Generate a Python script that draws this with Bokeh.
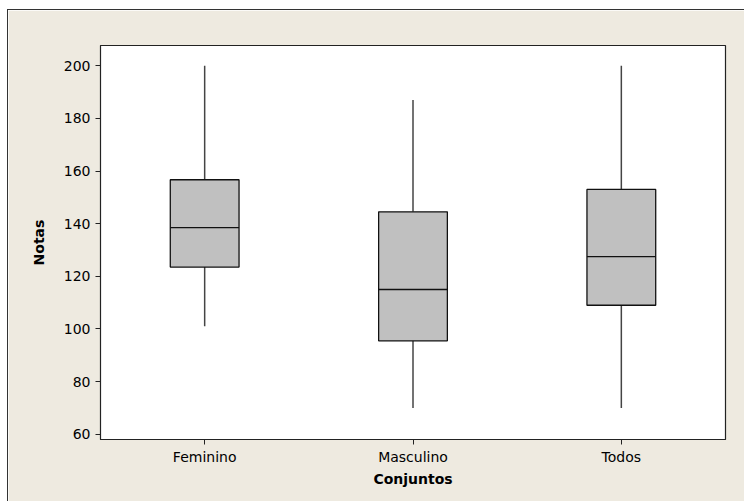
from bokeh.plotting import figure
from bokeh.models import FixedTicker, ColumnDataSource
from bokeh.embed import file_html
from bokeh.resources import INLINE

categorias = ["Feminino", "Masculino", "Todos"]
posicoes = [1, 2, 3]
minimo = [101, 70, 70]
q1 = [123.5, 95.5, 109]
mediana = [138.5, 115, 127.5]
q3 = [156.7, 144.5, 153]
maximo = [200, 187, 200]
y_ticks = [60, 80, 100, 120, 140, 160, 180, 200]

BG = "#EEEAE0"
BOX_W = 0.33

src = ColumnDataSource(dict(
    x=posicoes, lo=minimo, q1=q1, med=mediana, q3=q3, hi=maximo,
    xl=[v - BOX_W / 2 for v in posicoes], xr=[v + BOX_W / 2 for v in posicoes],
))

p = figure(width=737, height=492, output_backend="svg", toolbar_location=None,
           x_range=(0.5, 3.5), y_range=(58.0, 207.7),
           background_fill_color="white", border_fill_color=BG,
           min_border_left=92, min_border_right=20, min_border_top=35, min_border_bottom=63)
p.styles = {"border-left": "1px solid #333333", "border-top": "1px solid #333333",
            "margin-left": "7px", "margin-top": "9px"}

p.grid.visible = False
p.outline_line_color = "#222222"
p.outline_line_width = 1.2

# whiskers
p.segment(x0="x", y0="lo", x1="x", y1="q1", source=src, line_color="#444444", line_width=1.5)
p.segment(x0="x", y0="q3", x1="x", y1="hi", source=src, line_color="#444444", line_width=1.5)
# boxes
p.vbar(x="x", width=BOX_W, bottom="q1", top="q3", source=src,
       fill_color="#C0C0C0", line_color="#111111", line_width=1.3)
# medians
p.segment(x0="xl", y0="med", x1="xr", y1="med", source=src, line_color="#111111", line_width=1.3)

for ax in (p.xaxis[0], p.yaxis[0]):
    ax.axis_line_color = "#222222"
    ax.major_tick_line_color = "#222222"
    ax.major_tick_out = 5
    ax.major_tick_in = 0
    ax.minor_tick_line_color = None
    ax.major_label_text_font = "DejaVu Sans"
    ax.major_label_text_font_size = "14px"
    ax.major_label_text_color = "#000000"
    ax.axis_label_text_font = "DejaVu Sans"
    ax.axis_label_text_font_size = "14px"
    ax.axis_label_text_font_style = "bold"
    ax.axis_label_text_color = "#000000"

p.xaxis.ticker = FixedTicker(ticks=posicoes)
p.xaxis.major_label_overrides = {pos: c for pos, c in zip(posicoes, categorias)}
p.xaxis.axis_label = "Conjuntos"
p.xaxis.major_label_standoff = 4
p.xaxis.axis_label_standoff = 3

p.yaxis.ticker = FixedTicker(ticks=y_ticks)
p.yaxis.axis_label = "Notas"
p.yaxis.major_label_standoff = 5
p.yaxis.axis_label_standoff = 14

open("out.html", "w").write(file_html(p, INLINE))
